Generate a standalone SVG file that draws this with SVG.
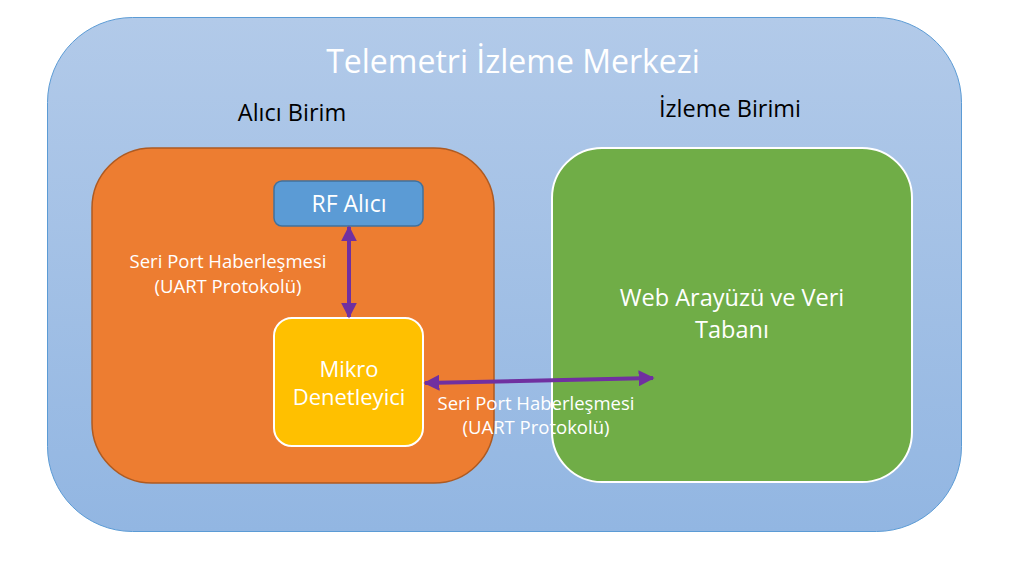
<svg xmlns="http://www.w3.org/2000/svg" width="1011" height="562" viewBox="0 0 1011 562">
<defs>
<linearGradient id="bg" x1="0" y1="0" x2="0" y2="1">
<stop offset="0" stop-color="#b2cae9"/>
<stop offset="1" stop-color="#92b6e2"/>
</linearGradient>
<marker id="ah" viewBox="0 0 10 10" refX="9" refY="5" markerWidth="4" markerHeight="4" orient="auto-start-reverse" markerUnits="strokeWidth">
<path d="M0,0 L10,5 L0,10 z" fill="#7030a0"/>
</marker>
</defs>
<style>
text{font-family:"Open Sans","Liberation Sans",sans-serif;text-anchor:middle}
.w{fill:#ffffff}
.k{fill:#000000}
.conn{stroke:#7030a0;stroke-width:4;fill:none;marker-start:url(#ah);marker-end:url(#ah)}
.lbl{font-size:18.5px}
</style>
<rect width="1011" height="562" fill="#ffffff"/>
<g id="merkez">
<rect x="47.5" y="17.5" width="914" height="514" rx="85" fill="url(#bg)" stroke="#5b9bd5" stroke-width="1"/>
<text class="w" x="513" y="73" font-size="32">Telemetri İzleme Merkezi</text>
</g>
<g id="alici-birim">
<text class="k" x="292" y="121" font-size="23.5">Alıcı Birim</text>
<rect x="92" y="148" width="402" height="335" rx="60" fill="#ed7d31" stroke="#ae5a21" stroke-width="1.5"/>
</g>
<g id="izleme-birimi">
<text class="k" x="730" y="117" font-size="23.5">İzleme Birimi</text>
<rect x="552" y="148" width="360" height="334" rx="50" fill="#70ad47" stroke="#ffffff" stroke-width="2"/>
<text class="w" x="732" y="306" font-size="23.5">Web Arayüzü ve Veri</text>
<text class="w" x="732" y="338" font-size="23.5">Tabanı</text>
</g>
<g id="rf-alici">
<rect x="274" y="181" width="149" height="45" rx="8" fill="#5b9bd5" stroke="#41719c" stroke-width="1.5"/>
<text class="w" x="349" y="212" font-size="23">RF Alıcı</text>
</g>
<g id="mikro">
<rect x="274" y="318" width="149" height="128" rx="18" fill="#ffc000" stroke="#ffffff" stroke-width="2"/>
<text class="w" x="349" y="377" font-size="22">Mikro</text>
<text class="w" x="349" y="405" font-size="22">Denetleyici</text>
</g>
<g id="connectors">
<line class="conn" x1="349" y1="227" x2="349" y2="317"/>
<line class="conn" x1="425" y1="383" x2="653" y2="378"/>
<text class="w lbl" x="228" y="268">Seri Port Haberleşmesi</text>
<text class="w lbl" x="228" y="293">(UART Protokolü)</text>
<text class="w lbl" x="536" y="410">Seri Port Haberleşmesi</text>
<text class="w lbl" x="536" y="434">(UART Protokolü)</text>
</g>
</svg>
